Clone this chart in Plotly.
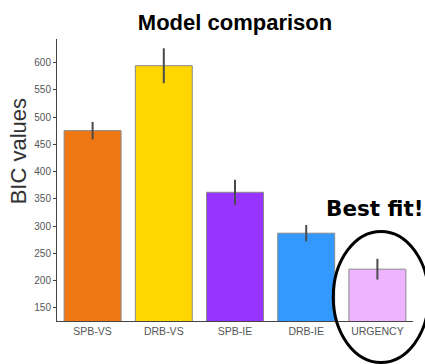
import plotly.graph_objects as go

# Model fits: mean BIC per model with error bar half-widths
models = ["SPB-VS", "DRB-VS", "SPB-IE", "DRB-IE", "URGENCY"]
bic_mean = [475, 594, 362, 287, 221]
bic_err = [16, 32, 23, 15, 19]
bar_colors = ["#F07814", "#FFD700", "#9933FF", "#3399FF", "#EEB4FF"]
y_ticks = [150, 200, 250, 300, 350, 400, 450, 500, 550, 600]

Y_RANGE = [126, 643]
X_RANGE = [-0.5, len(models) - 0.5]

fig = go.Figure(
    go.Bar(
        x=models,
        y=bic_mean,
        width=0.8,
        marker=dict(color=bar_colors, line=dict(color="#8a8a8a", width=1)),
        error_y=dict(type="data", array=bic_err, thickness=2, width=0, color="#4a4a4a"),
    )
)

# Highlight the winning model with an ellipse around its bar and label
best = models.index("URGENCY")
def xp(v):
    return (v - X_RANGE[0]) / (X_RANGE[1] - X_RANGE[0])
def yp(v):
    return (v - Y_RANGE[0]) / (Y_RANGE[1] - Y_RANGE[0])

fig.add_shape(
    type="circle", xref="paper", yref="paper",
    x0=xp(best - 0.62), x1=xp(best + 0.72),
    y0=yp(50), y1=yp(290),
    line=dict(color="black", width=3),
)
fig.add_annotation(
    text="<b>Best fit!</b>", xref="paper", yref="paper",
    x=xp(best - 0.03), y=yp(333), showarrow=False,
    font=dict(family="DejaVu Sans", size=21.5, color="black"),
    xanchor="center", yanchor="middle",
)
fig.add_annotation(
    text="BIC values", xref="paper", yref="paper",
    x=0, y=yp(437), xshift=-39, showarrow=False, textangle=-90,
    font=dict(family="Arial", size=22, color="#333333"),
    xanchor="center", yanchor="middle",
)

fig.update_layout(
    width=425, height=364,
    margin=dict(l=57, r=12, t=39, b=43),
    paper_bgcolor="white", plot_bgcolor="white",
    showlegend=False,
    bargap=0.2,
    title=dict(
        text="<b>Model comparison</b>", x=0.5, xref="paper",
        y=1 - 22 / 364, yref="container", xanchor="center", yanchor="middle",
        font=dict(family="Arial", size=22, color="black"),
    ),
    xaxis=dict(
        range=X_RANGE, showgrid=False, zeroline=False,
        showline=True, linecolor="#444444", linewidth=1,
        ticks="", tickfont=dict(family="Arial", size=10.5, color="#555555"),
    ),
    yaxis=dict(
        range=Y_RANGE, tickvals=y_ticks, showgrid=False, zeroline=False,
        showline=True, linecolor="#444444", linewidth=1,
        ticks="outside", ticklen=3, tickcolor="#444444",
        tickfont=dict(family="Arial", size=10, color="#555555"),
    ),
)

fig.write_html("out.html")
